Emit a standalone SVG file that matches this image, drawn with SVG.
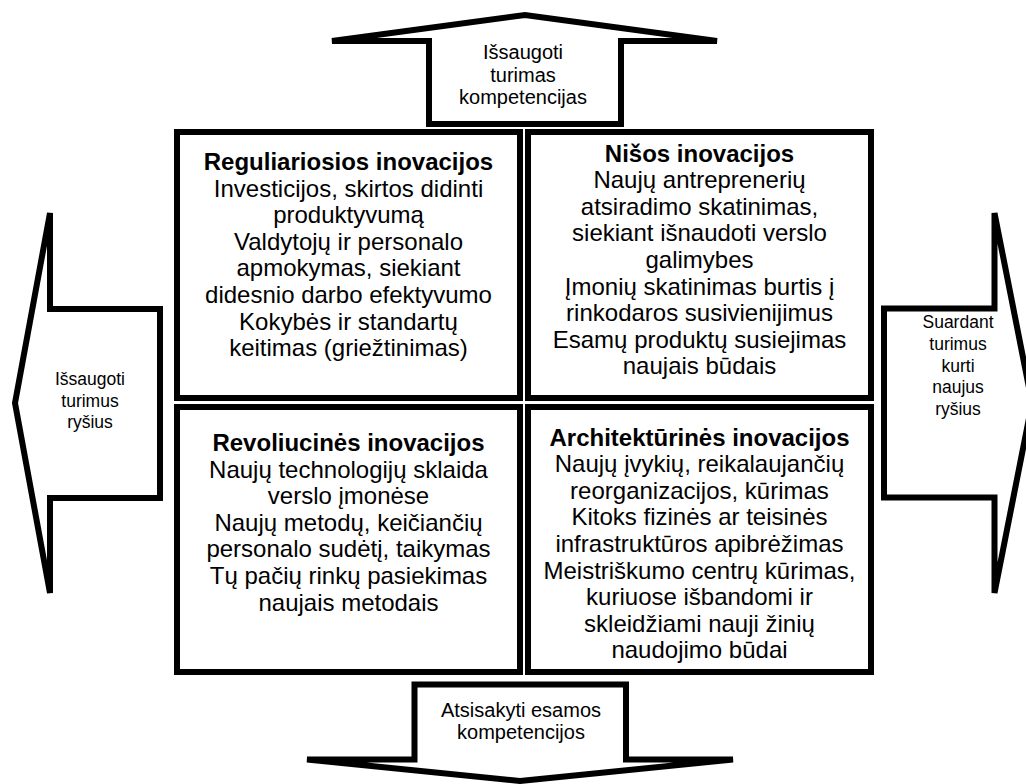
<svg xmlns="http://www.w3.org/2000/svg" width="1026" height="784" viewBox="0 0 1026 784">
<style>
.shape{fill:#fff;stroke:#000;stroke-width:6;stroke-linejoin:miter}
text{font-family:"Liberation Sans",Arial,sans-serif;fill:#000;text-anchor:middle}
.t{font-size:24px}
.h{font-size:24px;font-weight:bold}
.a{font-size:20px}
.s{font-size:17.5px}
</style>
<rect width="1026" height="784" fill="#fff"/>
<g id="arrow-top">
<polygon class="shape" points="332,41 525,15 717,41 621,41 621,124 429,124 429,41"/>
<text class="a" x="523" y="59">Išsaugoti</text>
<text class="a" x="523" y="81.5">turimas</text>
<text class="a" x="523" y="104">kompetencijas</text>
</g>
<g id="arrow-left">
<polygon class="shape" points="50,213 50,309 160,309 160,498 50,498 50,593 15,403"/>
<text class="s" x="90" y="385">Išsaugoti</text>
<text class="s" x="90" y="406.7">turimus</text>
<text class="s" x="90" y="428.4">ryšius</text>
</g>
<g id="arrow-right">
<polygon class="shape" points="994.5,213 994.5,308.5 884,308.5 884,497.5 994.5,497.5 994.5,593 1032,403"/>
<text class="s" x="958" y="328.3">Suardant</text>
<text class="s" x="958" y="350">turimus</text>
<text class="s" x="958" y="371.7">kurti</text>
<text class="s" x="958" y="393.4">naujus</text>
<text class="s" x="958" y="415.1">ryšius</text>
</g>
<g id="arrow-bottom">
<polygon class="shape" points="414.5,684.5 626,684.5 626,759.5 733,759.5 520,781 307,759.5 414.5,759.5"/>
<text class="a" x="521" y="717">Atsisakyti esamos</text>
<text class="a" x="521" y="739">kompetencijos</text>
</g>
<g id="box-regular">
<rect class="shape" x="177" y="132" width="343" height="266"/>
<text class="h" x="348.5" y="170">Reguliariosios inovacijos</text>
<text class="t" x="348.5" y="196.6">Investicijos, skirtos didinti</text>
<text class="t" x="348.5" y="223.2">produktyvumą</text>
<text class="t" x="348.5" y="249.8">Valdytojų ir personalo</text>
<text class="t" x="348.5" y="276.4">apmokymas, siekiant</text>
<text class="t" x="348.5" y="303">didesnio darbo efektyvumo</text>
<text class="t" x="348.5" y="329.6">Kokybės ir standartų</text>
<text class="t" x="348.5" y="356.2">keitimas (griežtinimas)</text>
</g>
<g id="box-niche">
<rect class="shape" x="528" y="132" width="343" height="266"/>
<text class="h" x="699.5" y="161.5">Nišos inovacijos</text>
<text class="t" x="699.5" y="188.1">Naujų antreprenerių</text>
<text class="t" x="699.5" y="214.7">atsiradimo skatinimas,</text>
<text class="t" x="699.5" y="241.3">siekiant išnaudoti verslo</text>
<text class="t" x="699.5" y="267.9">galimybes</text>
<text class="t" x="699.5" y="294.5">Įmonių skatinimas burtis į</text>
<text class="t" x="699.5" y="321.1">rinkodaros susivienijimus</text>
<text class="t" x="699.5" y="347.7">Esamų produktų susiejimas</text>
<text class="t" x="699.5" y="374.3">naujais būdais</text>
</g>
<g id="box-revolutionary">
<rect class="shape" x="177" y="407" width="343" height="265"/>
<text class="h" x="348.5" y="451">Revoliucinės inovacijos</text>
<text class="t" x="348.5" y="477.6">Naujų technologijų sklaida</text>
<text class="t" x="348.5" y="504.2">verslo įmonėse</text>
<text class="t" x="348.5" y="530.8">Naujų metodų, keičiančių</text>
<text class="t" x="348.5" y="557.4">personalo sudėtį, taikymas</text>
<text class="t" x="348.5" y="584">Tų pačių rinkų pasiekimas</text>
<text class="t" x="348.5" y="610.6">naujais metodais</text>
</g>
<g id="box-architectural">
<rect class="shape" x="528" y="407" width="343" height="265"/>
<text class="h" x="699.5" y="445.5">Architektūrinės inovacijos</text>
<text class="t" x="699.5" y="472.1">Naujų įvykių, reikalaujančių</text>
<text class="t" x="699.5" y="498.7">reorganizacijos, kūrimas</text>
<text class="t" x="699.5" y="525.3">Kitoks fizinės ar teisinės</text>
<text class="t" x="699.5" y="551.9">infrastruktūros apibrėžimas</text>
<text class="t" x="699.5" y="578.5">Meistriškumo centrų kūrimas,</text>
<text class="t" x="699.5" y="605.1">kuriuose išbandomi ir</text>
<text class="t" x="699.5" y="631.7">skleidžiami nauji žinių</text>
<text class="t" x="699.5" y="658.3">naudojimo būdai</text>
</g>
<g id="connectors"/>
</svg>
